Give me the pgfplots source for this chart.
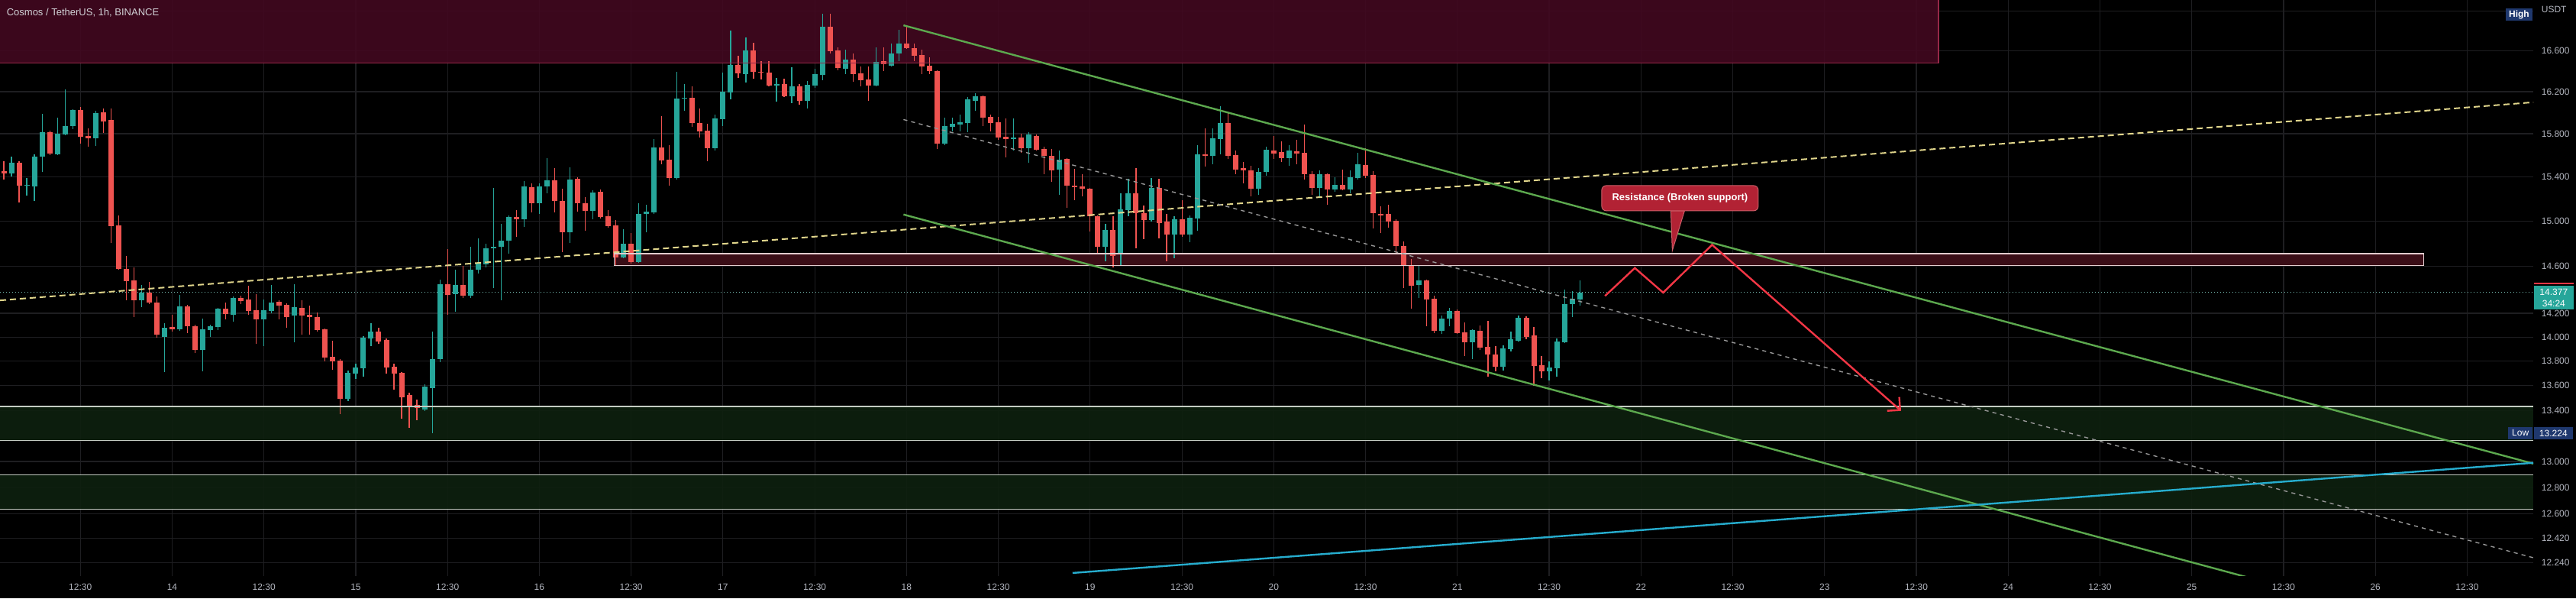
\documentclass[border=0pt]{standalone}
\usepackage{fontspec}
\setmainfont{Liberation Sans}
\usepackage{pgfplots}
\usepackage{pgfplotstable}
\pgfplotsset{compat=1.18}
\usetikzlibrary{arrows.meta}

\definecolor{upc}{RGB}{38,166,154}
\definecolor{dnc}{RGB}{239,83,80}
\definecolor{gridc}{RGB}{30,30,33}
\definecolor{axc}{RGB}{178,181,190}
\definecolor{topz}{RGB}{66,8,32}
\definecolor{topzb}{RGB}{150,40,72}
\definecolor{resz}{RGB}{58,13,22}
\definecolor{reszb}{RGB}{226,204,206}
\definecolor{supz}{RGB}{14,32,15}
\definecolor{supzb}{RGB}{196,204,194}
\definecolor{chan}{RGB}{92,168,78}
\definecolor{trend}{RGB}{225,214,140}
\definecolor{midc}{RGB}{150,150,150}
\definecolor{cyanl}{RGB}{38,172,205}
\definecolor{projc}{RGB}{242,54,69}
\definecolor{callf}{RGB}{178,34,52}
\definecolor{callb}{RGB}{205,95,105}
\definecolor{lblue}{RGB}{31,56,110}
\definecolor{ttl}{RGB}{210,210,215}
\definecolor{nowc}{RGB}{120,190,180}

% hourly candles: t = bar index, open high low close
\pgfplotstableread{
t o h l c
0 15.454 15.546 15.377 15.433
1 15.433 15.589 15.405 15.532
2 15.532 15.545 15.168 15.321
3 15.318 15.391 15.230 15.326
4 15.314 15.610 15.182 15.589
5 15.589 15.990 15.447 15.816
6 15.816 15.831 15.603 15.617
7 15.610 15.954 15.600 15.802
8 15.795 16.225 15.785 15.874
9 15.874 16.035 15.845 16.027
10 16.027 16.056 15.709 15.773
11 15.780 15.852 15.681 15.759
12 15.759 16.020 15.688 15.998
13 16.005 16.042 15.809 15.917
14 15.932 16.042 14.807 14.956
15 14.963 15.051 14.570 14.580
16 14.580 14.693 14.310 14.474
17 14.481 14.593 14.169 14.310
18 14.310 14.441 14.252 14.376
19 14.376 14.468 14.278 14.291
20 14.291 14.343 13.996 14.021
21 14.002 14.117 13.712 14.078
22 14.085 14.188 14.047 14.066
23 14.066 14.356 14.053 14.259
24 14.259 14.272 14.034 14.091
25 14.091 14.100 13.869 13.894
26 13.894 14.155 13.718 14.066
27 14.059 14.104 14.002 14.091
28 14.085 14.245 14.059 14.239
29 14.239 14.291 14.149 14.194
30 14.188 14.343 14.130 14.330
31 14.330 14.350 14.278 14.304
32 14.317 14.435 14.188 14.220
33 14.227 14.363 13.945 14.149
34 14.149 14.317 13.926 14.227
35 14.220 14.441 14.201 14.291
36 14.298 14.310 14.149 14.265
37 14.272 14.285 14.078 14.169
38 14.182 14.448 13.958 14.252
39 14.246 14.310 14.021 14.182
40 14.188 14.265 14.021 14.169
41 14.169 14.207 14.047 14.059
42 14.066 14.072 13.799 13.831
43 13.837 13.970 13.731 13.799
44 13.806 13.818 13.373 13.496
45 13.496 13.725 13.477 13.706
46 13.700 13.781 13.656 13.750
47 13.743 14.008 13.675 13.996
48 13.989 14.117 13.926 14.047
49 14.047 14.078 13.945 13.964
50 13.977 13.989 13.700 13.750
51 13.756 13.781 13.569 13.700
52 13.706 13.712 13.337 13.508
53 13.526 13.545 13.264 13.434
54 13.446 13.489 13.325 13.422
55 13.409 13.612 13.397 13.594
56 13.582 14.047 13.222 13.818
57 13.818 14.487 13.793 14.448
58 14.448 14.754 14.188 14.356
59 14.363 14.573 14.214 14.441
60 14.441 14.606 14.330 14.350
61 14.350 14.774 14.330 14.573
62 14.573 14.848 14.540 14.626
63 14.620 14.801 14.593 14.760
64 14.760 15.300 14.416 14.774
65 14.774 14.977 14.310 14.827
66 14.827 15.051 14.713 15.038
67 15.038 15.099 14.861 15.017
68 15.017 15.363 14.950 15.314
69 15.307 15.342 15.079 15.161
70 15.161 15.342 15.065 15.314
71 15.314 15.574 15.251 15.370
72 15.370 15.482 15.079 15.182
73 15.182 15.293 14.727 14.902
74 14.902 15.489 14.807 15.377
75 15.384 15.398 15.086 15.161
76 15.161 15.217 14.915 15.092
77 15.092 15.279 15.017 15.258
78 15.265 15.286 15.024 15.038
79 15.045 15.099 14.943 14.956
80 14.963 15.010 14.613 14.680
81 14.680 14.929 14.673 14.801
82 14.801 14.895 14.626 14.640
83 14.640 15.161 14.633 15.065
84 15.065 15.148 14.902 15.086
85 15.079 15.752 15.065 15.674
86 15.674 15.968 15.518 15.553
87 15.560 15.695 15.321 15.391
88 15.391 16.395 15.377 16.136
89 16.136 16.276 16.020 16.144
90 16.144 16.254 15.867 15.903
91 15.903 16.042 15.766 15.824
92 15.831 15.896 15.546 15.667
93 15.667 15.983 15.645 15.946
94 15.939 16.387 15.874 16.203
95 16.196 16.803 16.129 16.462
96 16.462 16.552 16.335 16.380
97 16.372 16.734 16.291 16.605
98 16.605 16.681 16.328 16.395
99 16.395 16.500 16.320 16.387
100 16.387 16.500 16.254 16.261
101 16.261 16.335 16.107 16.276
102 16.276 16.328 16.151 16.159
103 16.159 16.440 16.093 16.254
104 16.254 16.276 16.078 16.115
105 16.115 16.306 16.042 16.269
106 16.261 16.425 16.240 16.372
107 16.365 16.972 16.313 16.841
108 16.841 16.972 16.575 16.598
109 16.605 16.636 16.410 16.432
110 16.425 16.613 16.372 16.515
111 16.515 16.575 16.298 16.372
112 16.380 16.447 16.254 16.313
113 16.320 16.447 16.115 16.261
114 16.261 16.636 16.254 16.492
115 16.500 16.636 16.403 16.470
116 16.455 16.673 16.448 16.575
117 16.575 16.810 16.500 16.673
118 16.673 16.856 16.620 16.628
119 16.628 16.673 16.500 16.552
120 16.560 16.613 16.372 16.447
121 16.455 16.537 16.372 16.403
122 16.403 16.410 15.660 15.709
123 15.709 15.954 15.695 15.874
124 15.867 15.954 15.824 15.896
125 15.889 15.983 15.824 15.910
126 15.903 16.151 15.816 16.129
127 16.115 16.188 16.020 16.159
128 16.159 16.166 15.874 15.954
129 15.961 15.983 15.824 15.903
130 15.910 15.961 15.745 15.766
131 15.773 15.946 15.582 15.752
132 15.752 15.946 15.645 15.766
133 15.766 15.802 15.624 15.667
134 15.667 15.816 15.532 15.795
135 15.780 15.795 15.645 15.652
136 15.660 15.681 15.426 15.596
137 15.596 15.660 15.356 15.461
138 15.468 15.645 15.237 15.560
139 15.567 15.574 15.120 15.321
140 15.321 15.475 15.189 15.307
141 15.314 15.426 15.224 15.293
142 15.293 15.300 14.909 15.045
143 15.045 15.051 14.707 14.774
144 14.774 14.977 14.647 14.922
145 14.922 15.045 14.593 14.693
146 14.707 15.251 14.613 15.106
147 15.099 15.384 15.045 15.251
148 15.251 15.482 14.760 15.072
149 15.072 15.141 14.841 15.010
150 15.010 15.391 14.997 15.300
151 15.300 15.384 14.848 14.983
152 14.997 15.065 14.647 14.882
153 14.882 15.045 14.673 15.017
154 15.017 15.189 14.861 14.882
155 14.882 15.051 14.814 15.031
156 15.024 15.695 14.915 15.610
157 15.610 15.852 15.496 15.596
158 15.596 15.852 15.518 15.759
159 15.752 16.063 15.610 15.903
160 15.903 16.005 15.567 15.596
161 15.603 15.645 15.426 15.468
162 15.482 15.539 15.342 15.461
163 15.461 15.503 15.224 15.293
164 15.293 15.482 15.237 15.447
165 15.447 15.681 15.412 15.652
166 15.645 15.780 15.567 15.617
167 15.631 15.731 15.539 15.574
168 15.574 15.695 15.503 15.645
169 15.638 15.745 15.518 15.617
170 15.624 15.889 15.377 15.426
171 15.426 15.454 15.237 15.300
172 15.300 15.461 15.224 15.426
173 15.426 15.433 15.148 15.286
174 15.286 15.398 15.265 15.328
175 15.328 15.468 15.279 15.286
176 15.286 15.461 15.251 15.398
177 15.391 15.624 15.377 15.518
178 15.510 15.667 15.391 15.412
179 15.419 15.454 14.936 15.072
180 15.065 15.134 14.895 15.051
181 15.065 15.148 14.943 14.997
182 15.003 15.017 14.707 14.780
183 14.780 14.821 14.416 14.606
184 14.613 14.666 14.239 14.435
185 14.441 14.606 14.330 14.481
186 14.481 14.487 14.091 14.317
187 14.324 14.350 14.034 14.053
188 14.053 14.182 14.027 14.155
189 14.155 14.246 14.091 14.220
190 14.220 14.233 14.027 14.034
191 14.040 14.124 13.843 13.958
192 13.958 14.065 13.818 14.059
193 14.053 14.098 13.894 13.913
194 13.920 14.136 13.675 13.856
195 13.856 13.926 13.718 13.756
196 13.756 13.932 13.725 13.907
197 13.900 14.047 13.881 13.983
198 13.970 14.182 13.964 14.162
199 14.162 14.175 13.983 14.002
200 14.015 14.085 13.600 13.762
201 13.768 13.843 13.662 13.718
202 13.718 13.799 13.644 13.750
203 13.743 13.989 13.675 13.964
204 13.958 14.403 13.951 14.278
205 14.278 14.389 14.169 14.324
206 14.317 14.481 14.265 14.377
}\ohlc

% split the candles into up/down wick and body segments (nan = jump)
\pgfplotstablegetrowsof{\ohlc}
\pgfmathtruncatemacro\lastrow{\pgfplotsretval-1}
\gdef\upw{}\gdef\upb{}\gdef\dnw{}\gdef\dnb{}
\pgfplotsforeachungrouped \rowi in {0,...,\lastrow}{%
  \pgfplotstablegetelem{\rowi}{t}\of\ohlc\let\vT\pgfplotsretval
  \pgfplotstablegetelem{\rowi}{o}\of\ohlc\let\vO\pgfplotsretval
  \pgfplotstablegetelem{\rowi}{h}\of\ohlc\let\vH\pgfplotsretval
  \pgfplotstablegetelem{\rowi}{l}\of\ohlc\let\vL\pgfplotsretval
  \pgfplotstablegetelem{\rowi}{c}\of\ohlc\let\vC\pgfplotsretval
  \pgfmathtruncatemacro\isup{\vC>=\vO}%
  \ifnum\isup=1
    \xdef\upw{\upw(\vT,\vL)(\vT,\vH)(\vT,nan)}%
    \xdef\upb{\upb(\vT,\vO)(\vT,\vC)(\vT,nan)}%
  \else
    \xdef\dnw{\dnw(\vT,\vL)(\vT,\vH)(\vT,nan)}%
    \xdef\dnb{\dnb(\vT,\vC)(\vT,\vO)(\vT,nan)}%
  \fi
}

\begin{document}
\begin{tikzpicture}
\fill[black] (0pt,0pt) rectangle (843.5pt,195.75pt);
\begin{axis}[
  at={(0pt,7.25pt)}, anchor=south west,
  width=829.5pt, height=188.5pt, scale only axis,
  xmin=-0.5, xmax=330.64,
  ymode=log, ymin=12.144, ymax=17.111,
  axis line style={draw=none},
  major tick length=0pt,
  tick style={draw=none},
  grid=major,
  major grid style={gridc, line width=0.3pt},
  xtick={10,22,...,322},
  xticklabels={12:30,14,12:30,15,12:30,16,12:30,17,12:30,18,12:30,19,12:30,20,12:30,21,12:30,22,12:30,23,12:30,24,12:30,25,12:30,26,12:30},
  ytick={12.24,12.42,12.6,12.8,13.0,13.4,13.6,13.8,14.0,14.2,14.6,15.0,15.4,15.8,16.2,16.6,17.0},
  yticklabels={12.240,12.420,12.600,12.800,13.000,13.400,13.600,13.800,14.000,14.200,14.600,15.000,15.400,15.800,16.200,16.600,{}},
  yticklabel pos=right,
  tick label style={font=\fontsize{3}{3.6}\selectfont, text=axc},
  xticklabel style={anchor=center, inner sep=0pt, yshift=-3.5pt},
  yticklabel style={anchor=west, inner sep=0pt, xshift=2.5pt},
  unbounded coords=jump,
  filter discard warning=false,
  clip mode=individual,
]
% zones
\addplot[fill=topz, fill opacity=0.9, draw=none] coordinates {(-0.5,16.48) (252.9,16.48) (252.9,17.5) (-0.5,17.5)} -- cycle;
\addplot[fill=resz, draw=none] coordinates {(79.8,14.607) (316.3,14.607) (316.3,14.713) (79.8,14.713)} -- cycle;
\addplot[fill=supz, fill opacity=0.92, draw=none] coordinates {(-0.5,13.164) (330.64,13.164) (330.64,13.434) (-0.5,13.434)} -- cycle;
\addplot[fill=supz, fill opacity=0.92, draw=none] coordinates {(-0.5,12.636) (330.64,12.636) (330.64,12.896) (-0.5,12.896)} -- cycle;
% last price line
\addplot[nowc, line width=0.3pt, dash pattern=on 0.3pt off 0.7pt] coordinates {(-0.5,14.377) (330.64,14.377)};

% candles
\edef\tmp{\noexpand\addplot[\unexpanded{dnc, line width=0.3pt}] coordinates {\dnw};}\tmp
\edef\tmp{\noexpand\addplot[\unexpanded{dnc, line width=1.75pt, line cap=butt}] coordinates {\dnb};}\tmp
\edef\tmp{\noexpand\addplot[\unexpanded{upc, line width=0.3pt}] coordinates {\upw};}\tmp
\edef\tmp{\noexpand\addplot[\unexpanded{upc, line width=1.75pt, line cap=butt}] coordinates {\upb};}\tmp

% zone borders
\addplot[topzb, line width=0.35pt] coordinates {(-0.5,16.48) (252.9,16.48) (252.9,17.5)};
\addplot[reszb, line width=0.35pt] coordinates {(79.8,14.607) (316.3,14.607) (316.3,14.713) (79.8,14.713)} -- cycle;
\addplot[supzb, line width=0.35pt] coordinates {(-0.5,13.164) (330.64,13.164)};
\addplot[supzb, line width=0.35pt] coordinates {(-0.5,13.434) (330.64,13.434)};
\addplot[supzb, line width=0.35pt] coordinates {(-0.5,12.636) (330.64,12.636)};
\addplot[supzb, line width=0.35pt] coordinates {(-0.5,12.896) (330.64,12.896)};

% trend lines
\addplot[trend, line width=0.5pt, dash pattern=on 2pt off 1.25pt] coordinates {(-0.5,14.309) (330.64,16.100)};
\addplot[midc, line width=0.35pt, dash pattern=on 1.3pt off 1.3pt] coordinates {(117.6,15.934) (330.64,12.277)};
\addplot[chan, line width=0.6pt] coordinates {(117.6,16.854) (330.64,12.984)};
\addplot[chan, line width=0.6pt] coordinates {(117.6,15.059) (330.64,11.590)};
\addplot[cyanl, line width=0.6pt] coordinates {(139.7,12.166) (330.64,12.990)};

% projected path
\addplot[projc, line width=0.6pt, -{Straight Barb[length=3pt,width=6pt]}] coordinates {(209.3,14.347) (213.2,14.588) (216.9,14.375) (223.3,14.790) (248.0,13.398)};

% callout
\addplot[fill=callf, draw=callb, line width=0.25pt] coordinates {(217.9,15.093) (219.7,15.093) (218.1,14.740)} -- cycle;
\node[fill=callf, draw=callb, line width=0.25pt, rounded corners=1.5pt, minimum width=51.25pt, minimum height=8.25pt, inner sep=0pt, text=white, font=\bfseries\fontsize{3.25}{3.9}\selectfont] at (axis cs:219.1,15.206) {Resistance (Broken support)};

% title and price scale labels
\node[anchor=west, inner sep=0pt, text=ttl, font=\fontsize{3.25}{3.9}\selectfont] at (axis cs:0.3,16.982) {Cosmos / TetherUS, 1h, BINANCE};
\node[anchor=west, inner sep=0pt, xshift=2.5pt, text=axc, font=\fontsize{3}{3.6}\selectfont] at (axis cs:330.64,17.011) {USDT};
\node[anchor=east, fill=lblue, text=white, inner sep=0pt, minimum width=8.9pt, minimum height=3.9pt, font=\bfseries\fontsize{3}{3.6}\selectfont] at (axis cs:330.64,16.96) {High};
\node[anchor=east, fill=lblue, text=white, inner sep=0pt, minimum width=8pt, minimum height=4pt, font=\fontsize{3}{3.6}\selectfont] at (axis cs:330.64,13.222) {Low};
\node[anchor=west, fill=lblue, text=white, inner sep=0pt, minimum width=12.75pt, minimum height=4pt, font=\fontsize{3}{3.6}\selectfont] at (axis cs:330.64,13.222) {13.224};
\node[anchor=west, fill=projc, inner sep=0pt, minimum width=13pt, minimum height=0.6pt] at (axis cs:330.64,14.455) {};
\node[anchor=west, fill=upc, text=white, inner sep=0pt, minimum width=13pt, minimum height=7.75pt, align=center, font=\fontsize{3}{3.75}\selectfont] at (axis cs:330.64,14.333) {14.377\\34:24};
\end{axis}
\pgfresetboundingbox
\path[use as bounding box] (0pt,0pt) rectangle (843.5pt,195.75pt);
\end{tikzpicture}
\end{document}
